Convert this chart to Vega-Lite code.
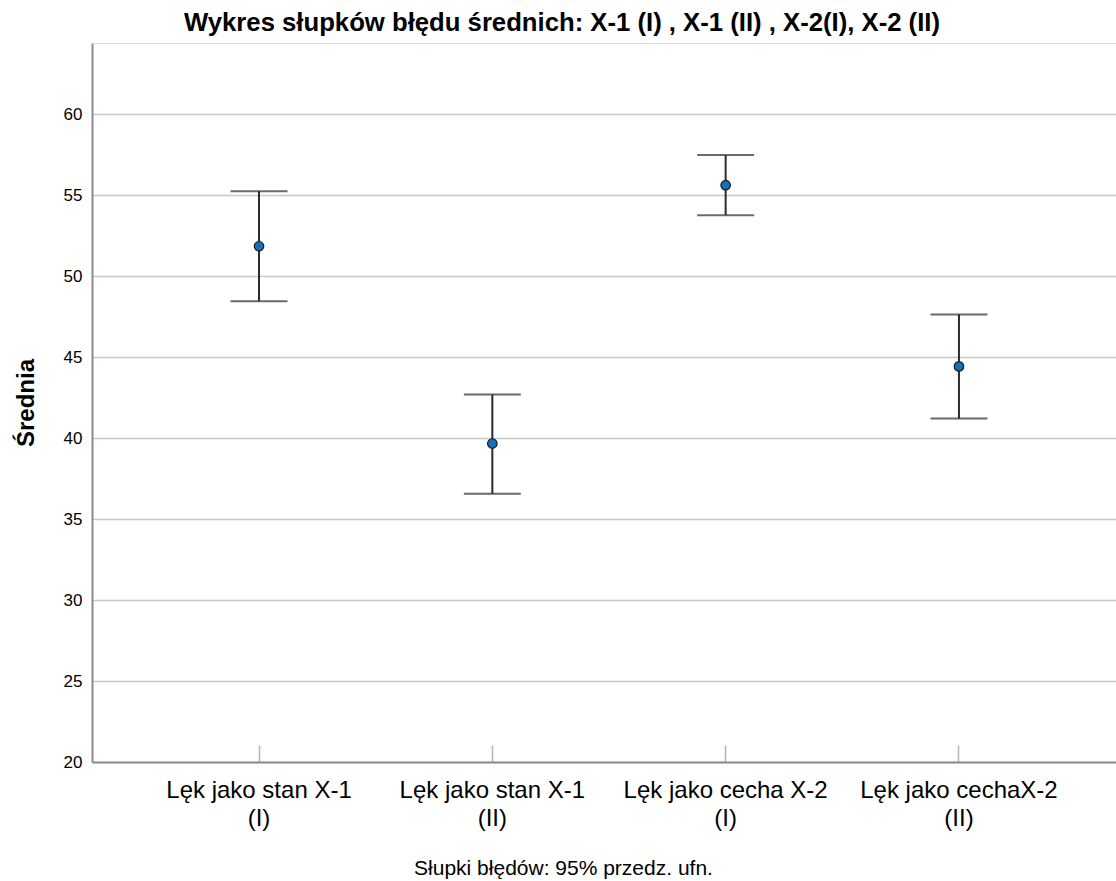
{
  "$schema": "https://vega.github.io/schema/vega-lite/v6.json",
  "width": 1024,
  "height": 719,
  "autosize": {"type": "none"},
  "padding": {"left": 92, "top": 43, "right": 0, "bottom": 119},
  "background": "white",
  "title": {
    "text": "Wykres słupków błędu średnich: X-1 (I) , X-1 (II) ,  X-2(I), X-2 (II)",
    "font": "Liberation Sans",
    "fontSize": 25.7,
    "fontWeight": "bold",
    "color": "#000000",
    "anchor": "middle",
    "dx": -42,
    "offset": 6
  },
  "data": {
    "values": [
      {"kategoria": "Lęk jako stan X-1\n(I)", "srednia": 51.85, "dolny": 48.45, "gorny": 55.25},
      {"kategoria": "Lęk jako stan X-1\n(II)", "srednia": 39.67, "dolny": 36.57, "gorny": 42.7},
      {"kategoria": "Lęk jako cecha X-2\n(I)", "srednia": 55.62, "dolny": 53.77, "gorny": 57.48},
      {"kategoria": "Lęk jako cechaX-2\n(II)", "srednia": 44.43, "dolny": 41.21, "gorny": 47.64}
    ]
  },
  "encoding": {
    "x": {
      "field": "kategoria",
      "type": "nominal",
      "sort": null,
      "scale": {"type": "band", "paddingInner": 0, "paddingOuter": 0.1945, "align": 0.555},
      "axis": {
        "title": "Słupki błędów: 95% przedz. ufn.",
        "titleFont": "Liberation Sans",
        "titleFontSize": 21,
        "titleFontWeight": "normal",
        "titleColor": "#000000",
        "titleX": 471,
        "titlePadding": 27,
        "labelExpr": "split(datum.value, '\\n')",
        "labelAngle": 0,
        "labelFont": "Liberation Sans",
        "labelFontSize": 24,
        "labelLineHeight": 28,
        "labelLimit": 0,
        "labelColor": "#000000",
        "labelPadding": 33,
        "labelBaseline": "top",
        "labelOverlap": false,
        "domainColor": "#8c8c8c",
        "domainWidth": 2,
        "tickColor": "#b4b4b4",
        "tickWidth": 1.5,
        "tickSize": -17,
        "grid": false
      }
    }
  },
  "layer": [
    {
      "mark": {"type": "rule", "color": "#2b2b2b", "strokeWidth": 2},
      "encoding": {
        "y": {
          "field": "dolny",
          "type": "quantitative",
          "scale": {"domain": [20, 64.4], "nice": false, "zero": false},
          "axis": {
            "title": "Średnia",
            "titleFont": "Liberation Sans",
            "titleFontSize": 24,
            "titleFontWeight": "bold",
            "titleColor": "#000000",
            "titlePadding": 25,
            "values": [20, 25, 30, 35, 40, 45, 50, 55, 60],
            "labelFont": "Liberation Sans",
            "labelFontSize": 17,
            "labelColor": "#000000",
            "labelPadding": 10,
            "ticks": false,
            "domainColor": "#8c8c8c",
            "domainWidth": 2,
            "gridColor": "#c8c8c8",
            "gridWidth": 1.5
          }
        },
        "y2": {"field": "gorny"}
      }
    },
    {
      "mark": {"type": "tick", "color": "#2b2b2b", "thickness": 2, "size": 57, "orient": "horizontal"},
      "encoding": {"y": {"field": "dolny", "type": "quantitative"}}
    },
    {
      "mark": {"type": "tick", "color": "#2b2b2b", "thickness": 2, "size": 57, "orient": "horizontal"},
      "encoding": {"y": {"field": "gorny", "type": "quantitative"}}
    },
    {
      "mark": {"type": "point", "filled": true, "fill": "#1670b8", "stroke": "#1a1a1a", "strokeWidth": 1.2, "size": 90, "opacity": 1},
      "encoding": {"y": {"field": "srednia", "type": "quantitative"}}
    }
  ]
}
